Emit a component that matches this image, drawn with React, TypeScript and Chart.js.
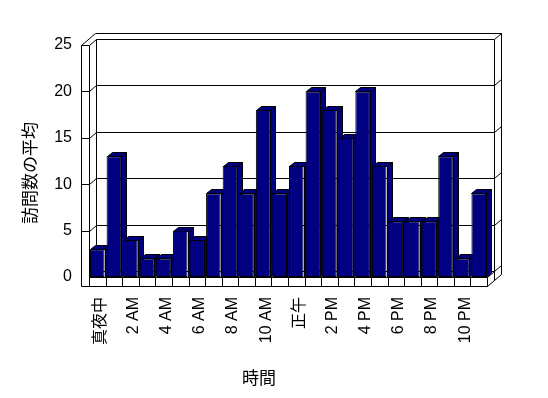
import React, { useEffect, useRef } from 'react';
import { Chart, registerables } from 'chart.js';

Chart.register(...registerables);

// ---- data ----
const categories = [
  '真夜中', '1 AM', '2 AM', '3 AM', '4 AM', '5 AM', '6 AM', '7 AM', '8 AM', '9 AM', '10 AM', '11 AM',
  '正午', '1 PM', '2 PM', '3 PM', '4 PM', '5 PM', '6 PM', '7 PM', '8 PM', '9 PM', '10 PM', '11 PM',
];
const visits = [3, 13, 4, 2, 2, 5, 4, 9, 12, 9, 18, 9, 12, 20, 18, 15, 20, 12, 6, 6, 6, 13, 2, 9];
const yTickValues = [0, 5, 10, 15, 20, 25];
const xTitle = '時間';
const yTitle = '訪問数の平均';

// ---- styling ----
const FONT_FAMILY = '"Liberation Sans", "Noto Sans CJK JP", sans-serif';
const BAR_COLOR = '#000080';
const DEPTH_X = 7;
const DEPTH_Y = -6;
const WALL_T = 8;
const FLOOR_T = 9;
const BAR_DX = 5;
const BAR_DY = -4;

const h = (v: number) => Math.round(v) + 0.5;

const shell3d = {
  id: 'shell3d',
  beforeDatasetsDraw(chart: any) {
    const { ctx, chartArea } = chart;
    const L = chartArea.left, R = chartArea.right, T = chartArea.top, B = chartArea.bottom;
    const ys = chart.scales.y;
    const xs = chart.scales.x;
    const dx = DEPTH_X, dy = DEPTH_Y;
    const OL = L - WALL_T;
    const FB = B + FLOOR_T;
    ctx.save();
    ctx.lineWidth = 1;
    ctx.strokeStyle = '#000';
    const line = (x1: number, y1: number, x2: number, y2: number) => {
      ctx.beginPath();
      ctx.moveTo(h(x1), h(y1));
      ctx.lineTo(h(x2), h(y2));
      ctx.stroke();
    };
    // outer silhouette
    ctx.beginPath();
    ctx.moveTo(h(OL), h(T));
    ctx.lineTo(h(OL + 2 * dx), h(T + 2 * dy));
    ctx.lineTo(h(R + 2 * dx), h(T + 2 * dy));
    ctx.lineTo(h(R + 2 * dx), h(FB + 2 * dy));
    ctx.lineTo(h(R), h(FB));
    ctx.lineTo(h(OL), h(FB));
    ctx.closePath();
    ctx.fillStyle = '#fff';
    ctx.fill();
    ctx.stroke();
    // left wall
    line(OL, T, L, T);
    line(L, T, L, B);
    line(L, T, L + dx, T + dy);
    line(L + dx, T + dy, L + dx, B + dy);
    // back wall top & right
    line(L + dx, T + dy, R + dx, T + dy);
    line(R + dx, T + dy, R + 2 * dx, T + 2 * dy);
    line(R + dx, T + dy, R + dx, FB + dy);
    // gridlines
    yTickValues.forEach((v) => {
      const yv = ys.getPixelForValue(v);
      if (v !== 0 && v !== yTickValues[yTickValues.length - 1]) {
        line(OL, yv, L, yv);
      }
      if (v !== yTickValues[yTickValues.length - 1]) {
        line(L, yv, L + dx, yv + dy);
        line(L + dx, yv + dy, R + dx, yv + dy);
        line(R + dx, yv + dy, R + 2 * dx, yv + 2 * dy);
      }
    });
    // floor
    line(L, B, R, B);
    line(R, B, R, FB);
    line(R, B, R + dx, B + dy);
    for (let i = 0; i <= categories.length; i++) {
      const xb = xs.getPixelForValue(i - 0.5);
      line(xb, B, xb, FB);
    }
    // bar sides & tops
    const meta = chart.getDatasetMeta(0);
    ctx.fillStyle = BAR_COLOR;
    meta.data.forEach((el: any) => {
      const { x, y, base, width } = el.getProps(['x', 'y', 'base', 'width'], true);
      const x1 = x - width / 2;
      const x2 = x + width / 2;
      ctx.beginPath();
      ctx.moveTo(h(x2), h(y));
      ctx.lineTo(h(x2 + BAR_DX), h(y + BAR_DY));
      ctx.lineTo(h(x2 + BAR_DX), h(base + BAR_DY));
      ctx.lineTo(h(x2), h(base));
      ctx.closePath();
      ctx.fill();
      ctx.stroke();
      ctx.beginPath();
      ctx.moveTo(h(x1), h(y));
      ctx.lineTo(h(x1 + BAR_DX), h(y + BAR_DY));
      ctx.lineTo(h(x2 + BAR_DX), h(y + BAR_DY));
      ctx.lineTo(h(x2), h(y));
      ctx.closePath();
      ctx.fill();
      ctx.stroke();
    });
    ctx.restore();
  },
  afterDraw(chart: any) {
    const { ctx } = chart;
    ctx.save();
    ctx.fillStyle = '#000';
    ctx.font = '17px "Noto Sans CJK JP", sans-serif';
    ctx.textAlign = 'center';
    ctx.textBaseline = 'middle';
    ctx.fillText(xTitle, 259, 378);
    ctx.translate(30, 173);
    ctx.rotate(-Math.PI / 2);
    ctx.fillText(yTitle, 0, 0);
    ctx.restore();
  },
};

export default function App() {
  const ref = useRef<HTMLCanvasElement>(null);
  useEffect(() => {
    const canvas = ref.current;
    if (!canvas) return;
    const chart = new Chart(canvas, {
      type: 'bar',
      data: {
        labels: categories,
        datasets: [
          {
            data: visits,
            backgroundColor: BAR_COLOR,
            borderColor: '#000',
            borderWidth: 1,
            borderSkipped: false,
            barPercentage: 0.88,
            categoryPercentage: 1,
          },
        ],
      },
      options: {
        responsive: false,
        animation: false,
        layout: { padding: { left: 0, top: 45, right: 61, bottom: 0 } },
        plugins: { legend: { display: false }, tooltip: { enabled: false } },
        scales: {
          x: {
            grid: { display: false, drawTicks: false },
            border: { display: false },
            ticks: {
              autoSkip: false,
              maxRotation: 90,
              minRotation: 90,
              padding: 20,
              labelOffset: 3,
              color: '#000',
              font: { family: FONT_FAMILY, size: 16 },
              callback: (_v: any, i: number) => (i % 2 === 0 ? categories[i] : ''),
            },
            afterFit: (s: any) => {
              s.height = 121;
            },
          },
          y: {
            min: 0,
            max: 25,
            grid: { display: false, drawTicks: false },
            border: { display: false },
            ticks: {
              padding: 17,
              color: '#000',
              font: { family: FONT_FAMILY, size: 16 },
            },
            afterBuildTicks: (s: any) => {
              s.ticks = yTickValues.map((v) => ({ value: v }));
            },
            afterFit: (s: any) => {
              s.width = 89;
            },
          },
        },
      },
      plugins: [shell3d],
    });
    return () => chart.destroy();
  }, []);
  return (
    <div style={{ position: 'absolute', left: 0, top: 0, width: 548, height: 398, background: '#fff' }}>
      <canvas ref={ref} width={548} height={398} style={{ display: 'block' }} />
    </div>
  );
}
